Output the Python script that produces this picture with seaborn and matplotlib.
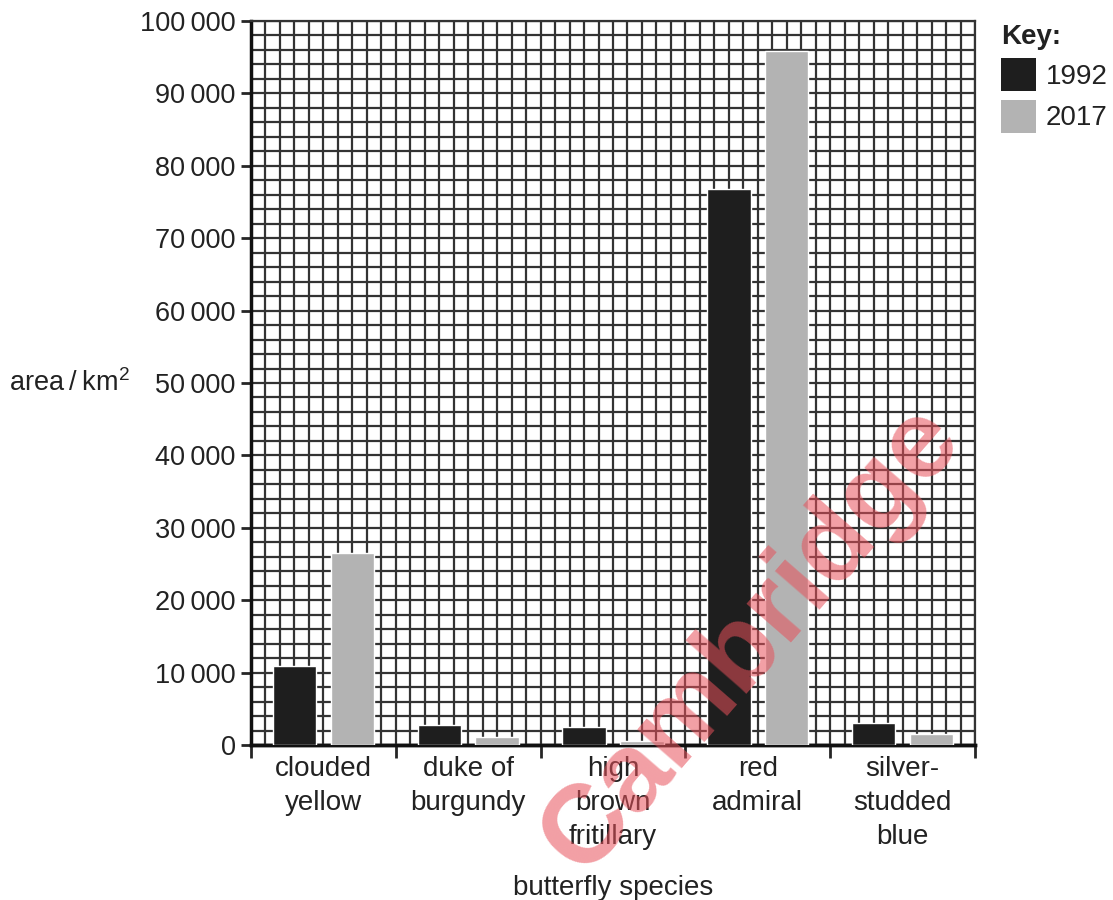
import numpy as np
import pandas as pd
import matplotlib
matplotlib.use("Agg")
import matplotlib.pyplot as plt
from matplotlib.ticker import MultipleLocator, FuncFormatter
from matplotlib.patches import Patch
import seaborn as sns

# data
species = ["clouded\nyellow", "duke of\nburgundy", "high\nbrown\nfritillary",
           "red\nadmiral", "silver-\nstudded\nblue"]
years = ["1992", "2017"]
area_1992 = [10900, 2700, 2500, 76800, 3000]
area_2017 = [26500, 1150, 500, 95800, 1500]
colors = ["#1e1e1e", "#b3b3b3"]

df = pd.DataFrame({
    "species": species * 2,
    "year": [years[0]] * len(species) + [years[1]] * len(species),
    "area": area_1992 + area_2017,
})

sns.set_style("white")
plt.rcParams["font.family"] = ["Liberation Sans", "DejaVu Sans"]
plt.rcParams["mathtext.fontset"] = "custom"
plt.rcParams["mathtext.rm"] = "Liberation Sans"
text_col = "#222222"

fig = plt.figure(figsize=(11.13, 9), dpi=100)
ax = fig.add_axes([251 / 1113, 1 - 745 / 900, 724 / 1113, 724 / 900])

sns.barplot(data=df, x="species", y="area", hue="year", hue_order=years,
            palette=colors, width=0.8, gap=0.25, edgecolor="white",
            linewidth=1, saturation=1, ax=ax, legend=False, zorder=3)

ax.set_xlim(-0.5, len(species) - 0.5)
ax.set_ylim(0, 100000)

# graph paper grid
grid_col = "#333333"
ax.yaxis.set_major_locator(MultipleLocator(10000))
ax.yaxis.set_minor_locator(MultipleLocator(2000))
ax.set_xticks(np.arange(-0.5, len(species) - 0.5 + 0.01, 0.1), minor=True)
ax.set_axisbelow(True)
ax.grid(which="both", color=grid_col, linewidth=1.6)

ax.yaxis.set_major_formatter(FuncFormatter(lambda v, p: f"{int(v):,}".replace(",", "\u2009")))
ax.tick_params(axis="y", which="major", length=7, width=2, direction="out",
               labelsize=19.5, labelcolor=text_col, pad=4, left=True)
ax.tick_params(axis="y", which="minor", length=0)
ax.tick_params(axis="x", which="both", length=0, labelsize=20, labelcolor=text_col, pad=8)
ax.set_xticklabels(species, linespacing=1.4)

# boundary ticks between categories
sec = ax.secondary_xaxis("bottom")
sec.set_xticks(np.arange(-0.5, len(species), 1.0))
sec.tick_params(length=9, width=2, direction="out", labelbottom=False, bottom=True)
sec.spines["bottom"].set_linewidth(2.5)

for s in ["left", "bottom"]:
    ax.spines[s].set_linewidth(2.5)
    ax.spines[s].set_color("#111111")
for s in ["top", "right"]:
    ax.spines[s].set_linewidth(1.6)
    ax.spines[s].set_color(grid_col)

ax.set_xlabel("butterfly species", fontsize=20, color=text_col, labelpad=18)
ax.set_ylabel("area\u2009/\u2009km$^{\\mathrm{2}}$", fontsize=19.5, color=text_col,
              rotation=0, ha="right", va="center")
ax.yaxis.set_label_coords(-0.167, 0.5)

handles = [Patch(facecolor=c, edgecolor="none") for c in colors]
leg = fig.legend(handles, years, loc="upper left", bbox_to_anchor=(0.882, 0.995),
                 title="Key:", frameon=False, fontsize=20, title_fontsize=20,
                 handlelength=1.25, handleheight=1.45, handletextpad=0.35,
                 labelspacing=0.3, borderpad=0.2)
leg.get_title().set_fontweight("bold")
leg.get_title().set_color(text_col)
leg._legend_box.align = "left"
for t in leg.get_texts():
    t.set_color(text_col)

# watermark
fig.text(0.675, 0.29, "Cambridge", rotation=49, fontsize=80, fontweight="bold",
         color="#e8505a", alpha=0.55, ha="center", va="center", rotation_mode="anchor")

fig.savefig("out.png", dpi=100)
